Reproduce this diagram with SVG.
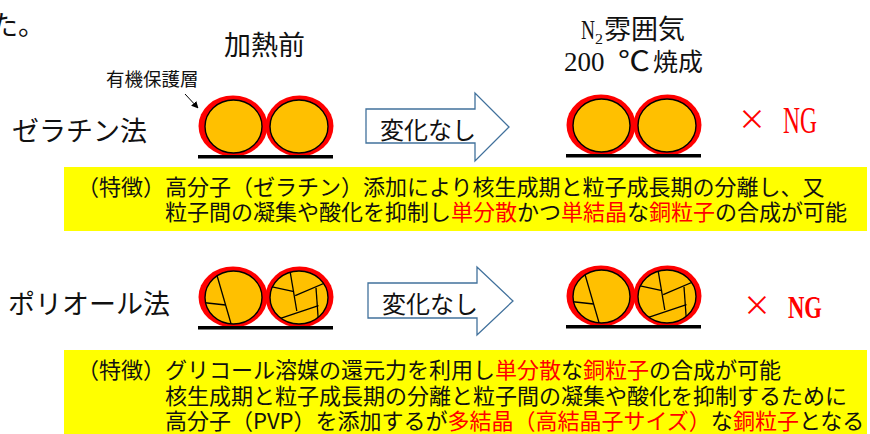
<svg xmlns="http://www.w3.org/2000/svg" xmlns:xlink="http://www.w3.org/1999/xlink" width="870" height="434" viewBox="0 0 870 434">
  <style>
    .jp { font-family: "Noto Sans CJK JP", "Noto Sans", sans-serif; fill: #111; }
    .serif { font-family: "Liberation Serif", "DejaVu Serif", serif; fill: #111; }
    .red { fill: #FF0000; }
    .ring { fill: #FF0000; }
    .core { fill: #FFC000; stroke: #000; stroke-width: 1.4; }
    .grain { fill: none; stroke: #000; stroke-width: 1.3; }
    .base { fill: #000; }
    .box { fill: #FFFF00; }
    .shift { fill: #FFFFFF; stroke: #41719C; stroke-width: 1.3; }
    .pointer { fill: none; stroke: #000; stroke-width: 1; }
  </style>
  <defs>
    <marker id="tip" viewBox="0 0 10 10" refX="9" refY="5" markerWidth="7" markerHeight="7" orient="auto" markerUnits="userSpaceOnUse">
      <path d="M0,0 L10,5 L0,10 Z" fill="#000"/>
    </marker>
    <clipPath id="clip-left"><ellipse cx="233.5" cy="126.5" rx="28.5" ry="26.5"/></clipPath>
    <clipPath id="clip-right"><ellipse cx="299" cy="126.5" rx="29" ry="26.5"/></clipPath>
    <!-- two coated copper particles sitting on a substrate line -->
    <g id="pair-shell">
      <ellipse class="ring" cx="233" cy="126" rx="34.5" ry="30.5"/>
      <ellipse class="ring" cx="299.5" cy="126" rx="34" ry="30.5"/>
      <ellipse class="core" cx="233.5" cy="126.5" rx="28.5" ry="26.5"/>
      <ellipse class="core" cx="299" cy="126.5" rx="29" ry="26.5"/>
      <rect class="base" x="198" y="155" width="135" height="3.5"/>
    </g>
    <!-- grain boundaries of polycrystalline particles -->
    <g id="pair-grains">
      <g clip-path="url(#clip-left)">
        <line class="grain" x1="216" y1="101" x2="232" y2="156"/>
        <line class="grain" x1="202" y1="131.4" x2="225.6" y2="134"/>
      </g>
      <g clip-path="url(#clip-right)">
        <line class="grain" x1="289.5" y1="97" x2="296.8" y2="140"/>
        <line class="grain" x1="271" y1="115.6" x2="294" y2="120.6"/>
        <line class="grain" x1="295.2" y1="124.7" x2="330" y2="109.8"/>
        <line class="grain" x1="316" y1="116.7" x2="318.8" y2="156"/>
        <line class="grain" x1="276" y1="148.8" x2="318.5" y2="134.6"/>
      </g>
    </g>
  </defs>

  <!-- trailing sentence fragment -->
  <text class="jp" x="-9" y="35" font-size="27">た。</text>

  <!-- column headings -->
  <g id="heading-before">
    <text class="jp" x="224" y="55" font-size="27">加熱前</text>
  </g>
  <g id="heading-after">
    <text class="serif" x="581" y="39" font-size="27" textLength="14" lengthAdjust="spacingAndGlyphs">N</text>
    <text class="serif" x="595" y="44" font-size="15" textLength="8" lengthAdjust="spacingAndGlyphs">2</text>
    <text class="jp" x="604" y="39" font-size="27">雰囲気</text>
    <text class="serif" x="564" y="71" font-size="27">200</text>
    <text class="jp" x="618" y="71" font-size="27" textLength="32" lengthAdjust="spacingAndGlyphs">℃</text>
    <text class="jp" x="653" y="71" font-size="25">焼成</text>
  </g>

  <!-- organic protective layer callout -->
  <g id="label-coating">
    <text class="jp" x="106" y="86" font-size="18.5">有機保護層</text>
  </g>

  <!-- gelatin method row -->
  <g id="method-gelatin">
    <text class="jp" x="12" y="141" font-size="27">ゼラチン法</text>
  </g>
  <g id="particles-gelatin-before">
    <use xlink:href="#pair-shell"/>
  </g>
  <g id="arrow-gelatin">
    <polygon class="shift" points="366,109 475,109 475,93 509,127 475,161 475,143 366,143"/>
    <text class="jp" x="380" y="139" font-size="24">変化なし</text>
  </g>
  <g id="particles-gelatin-after">
    <use xlink:href="#pair-shell" transform="translate(368,-1)"/>
  </g>
  <g id="result-gelatin">
    <text class="jp red" x="738" y="130" font-size="28">×</text>
    <text class="serif red" x="783" y="133" font-size="38" textLength="34" lengthAdjust="spacingAndGlyphs">NG</text>
  </g>
  <g id="notes-gelatin">
    <rect class="box" x="64" y="167" width="803" height="64"/>
    <text class="jp" x="77" y="195" font-size="22">（特徴）高分子（ゼラチン）添加により核生成期と粒子成長期の分離し、又</text>
    <text class="jp" x="165" y="220" font-size="22">粒子間の凝集や酸化を抑制し<tspan class="red">単分散</tspan>かつ<tspan class="red">単結晶</tspan>な<tspan class="red">銅粒子</tspan>の合成が可能</text>
  </g>

  <!-- polyol method row -->
  <g id="method-polyol">
    <text class="jp" x="8" y="314" font-size="27">ポリオール法</text>
  </g>
  <g id="particles-polyol-before">
    <g transform="translate(0,171)">
      <use xlink:href="#pair-shell"/>
      <use xlink:href="#pair-grains"/>
    </g>
  </g>
  <g id="arrow-polyol">
    <polygon class="shift" points="368,283 477,283 477,267 513,301 477,335 477,318 368,318"/>
    <text class="jp" x="382" y="313" font-size="24">変化なし</text>
  </g>
  <g id="particles-polyol-after">
    <g transform="translate(368,170)">
      <use xlink:href="#pair-shell"/>
      <use xlink:href="#pair-grains"/>
    </g>
  </g>
  <g id="result-polyol">
    <text class="jp red" x="743" y="316" font-size="28">×</text>
    <text class="serif red" x="788" y="318" font-size="31" font-weight="bold" textLength="34" lengthAdjust="spacingAndGlyphs">NG</text>
  </g>
  <g id="notes-polyol">
    <rect class="box" x="64" y="350" width="803" height="84"/>
    <text class="jp" x="77" y="378" font-size="22">（特徴）グリコール溶媒の還元力を利用し<tspan class="red">単分散</tspan>な<tspan class="red">銅粒子</tspan>の合成が可能</text>
    <text class="jp" x="165" y="404" font-size="22">核生成期と粒子成長期の分離と粒子間の凝集や酸化を抑制するために</text>
    <text class="jp" x="165" y="429" font-size="22">高分子（PVP）を添加するが<tspan class="red">多結晶（高結晶子サイズ）</tspan>な<tspan class="red">銅粒子</tspan>となる</text>
  </g>

  <!-- connectors -->
  <g id="connectors">
    <line class="pointer" x1="185" y1="94" x2="198" y2="108" marker-end="url(#tip)"/>
  </g>
</svg>
